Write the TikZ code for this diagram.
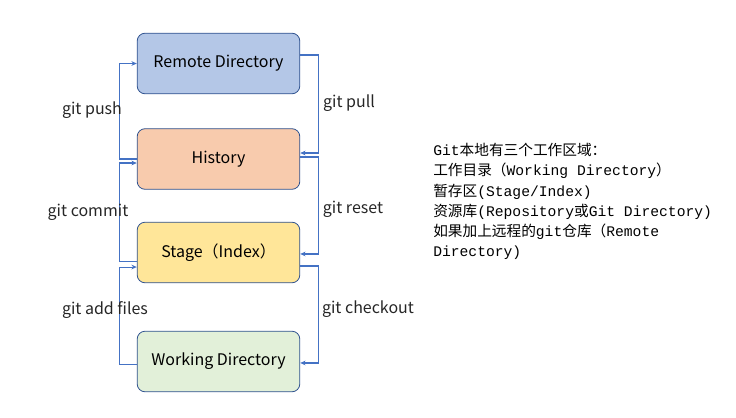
\documentclass[tikz,border=0pt]{standalone}
\usepackage{fontspec}
\setmainfont{Noto Sans CJK SC}
\newfontfamily\latmono{Liberation Mono}
\newcommand\lm[1]{{\latmono #1}}
\usetikzlibrary{arrows.meta}

\definecolor{boxline}{RGB}{47,82,143}
\definecolor{flowblue}{RGB}{68,114,196}
\definecolor{remotefill}{RGB}{180,199,231}
\definecolor{historyfill}{RGB}{248,203,173}
\definecolor{stagefill}{RGB}{255,230,153}
\definecolor{workfill}{RGB}{226,240,217}

\tikzset{
  area/.style={draw=boxline, line width=0.6pt, rounded corners=6pt,
    minimum width=122pt, minimum height=45.5pt, font=\fontsize{12}{14}\selectfont},
  flow/.style={draw=flowblue, line width=0.8pt, -{Stealth[length=4pt,width=3.5pt]}},
  cmd/.style={font=\fontsize{12}{14}\selectfont, text=black!85}
}

\begin{document}
\begin{tikzpicture}[x=0.75pt,y=0.75pt,yscale=-1,xscale=1]
\useasboundingbox (0,0) rectangle (736,418);

% Areas
\node [area, fill=remotefill] (remote) at (218.5,63.5) {Remote Directory};
\node [area, fill=historyfill] (hist) at (218.5,159) {History};
\node [area, fill=stagefill] (stage) at (218.5,252.5) {Stage（Index）};
\node [area, fill=workfill] (work) at (218.5,361.5) {Working Directory};

% Left side: towards the remote
\draw [flow] (hist.west) -- ++(-17,0) |- (remote.west);
\draw [flow] ([yshift=6.4pt]stage.west) -- ++(-17,0) |- ([yshift=3pt]hist.west);
\draw [flow] ([yshift=1.9pt]work.west) -- ++(-17,0) |- ([yshift=10.9pt]stage.west);

% Right side: back to the working copy
\draw [flow] ([yshift=-6.4pt]remote.east) -- ++(18,0) |- ([yshift=-4.5pt]hist.east);
\draw [flow] ([yshift=-1.5pt]hist.east) -- ++(18,0) |- ([yshift=1.1pt]stage.east);
\draw [flow] ([yshift=10.1pt]stage.east) -- ++(18,0) |- ([yshift=1.1pt]work.east);

% Text Node
\node [cmd] (push) at (92,110) {git push};
\node [cmd] (pull) at (349,103) {git pull};
\node [cmd] (commit) at (88,212) {git commit};
\node [cmd] (reset) at (353,209) {git reset};
\node [cmd] (add) at (105,310) {git add files};
\node [cmd] (checkout) at (368,309) {git checkout};

% Text Node
\node [anchor=north west, align=left, inner sep=0pt,
  font=\fontsize{11}{15.2}\selectfont] (note) at (433,143) {%
\lm{Git}本地有三个工作区域：\\
工作目录（\lm{Working Directory}）\\
暂存区\lm{(Stage/Index)}\\
资源库\lm{(Repository}或\lm{Git Directory)}\\
如果加上远程的\lm{git}仓库（\lm{Remote}\\
\lm{Directory)}};

\end{tikzpicture}
\end{document}
